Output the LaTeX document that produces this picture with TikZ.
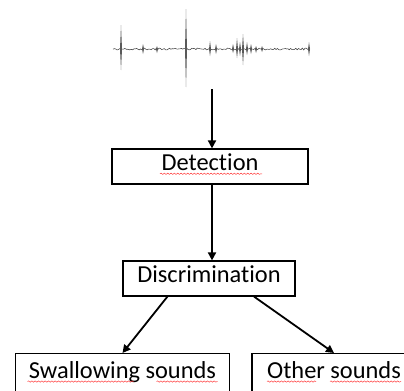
\documentclass[tikz,border=0pt]{standalone}
\usepackage{fontspec}
\setmainfont{Carlito}[Ligatures = NoCommon]
\usetikzlibrary{arrows.meta,calc,decorations.pathmorphing}
\tikzstyle{labeledBox}=[shape = rectangle, draw, line width = 0.9pt, inner sep = 0pt, text height = 0.64em, text depth = 0pt, font = \fontsize{18.3}{22}\selectfont]
\tikzstyle{flowArrow}=[line width = 1.35pt, -{Triangle[length = 6pt, width = 6pt]}]
\tikzstyle{wavePen}=[line width = 0.4pt, black!75]
\tikzstyle{spellMark}=[red!80, line width = 0.35pt, decorate, decoration = {snake, amplitude = 0.5pt, segment length = 2.5pt}]

\begin{document}
\begin{tikzpicture}[x = 0.75pt, y = -0.75pt]
\useasboundingbox (0,0) rectangle (404,390);
\pgfmathsetseed{7}
\draw[wavePen] plot[samples = 150, domain = 113:309] (\x, {49 + 0.9*rand});
\foreach \x/\up/\down in {121/24/21, 143/5/5, 157/3/4, 186/40/38, 210/8/7, 216/5/5, 233/5/4, 237/11/9, 240/7/7, 243/15/16, 247/7/6, 251/5/5, 256/3/4, 262/3/3, 309/7/7}
  \fill[black!65] (\x-1,49) -- (\x,49-\up) -- (\x+1,49) -- (\x,49+\down) -- cycle;
\coordinate (sig) at (212,89);
\node[labeledBox, minimum width = 147pt, minimum height = 26.25pt] (detect) at (210,166.5) {Detection};
\node[labeledBox, minimum width = 129pt, minimum height = 26.25pt] (discrim) at (209,278.5) {Discrimination};
\node[labeledBox, minimum width = 160.5pt, minimum height = 31pt, anchor = north] (swallow) at (122.5,353) {Swallowing sounds};
\node[labeledBox, minimum width = 123pt, minimum height = 31pt, anchor = north] (other) at (334,353) {Other sounds};
\draw[flowArrow] (sig) -- (sig |- detect.north);
\draw[flowArrow] (sig |- detect.south) -- (sig |- discrim.north);
\draw[flowArrow] ($(discrim.south west)!0.26!(discrim.south east)$) -- (swallow.north);
\draw[flowArrow] ($(discrim.south west)!0.76!(discrim.south east)$) -- (other.north);
\draw[spellMark] ($(detect.base)+(-50,3)$) -- ($(detect.base)+(52,3)$);
\draw[spellMark] ($(swallow.base)+(-95,3)$) -- ($(swallow.base)+(11,3)$);
\draw[spellMark] ($(swallow.base)+(34,3)$) -- ($(swallow.base)+(95,3)$);
\draw[spellMark] ($(other.base)+(-67,3)$) -- ($(other.base)+(-18,3)$);
\draw[spellMark] ($(other.base)+(-4,3)$) -- ($(other.base)+(67,3)$);
\end{tikzpicture}
\end{document}
